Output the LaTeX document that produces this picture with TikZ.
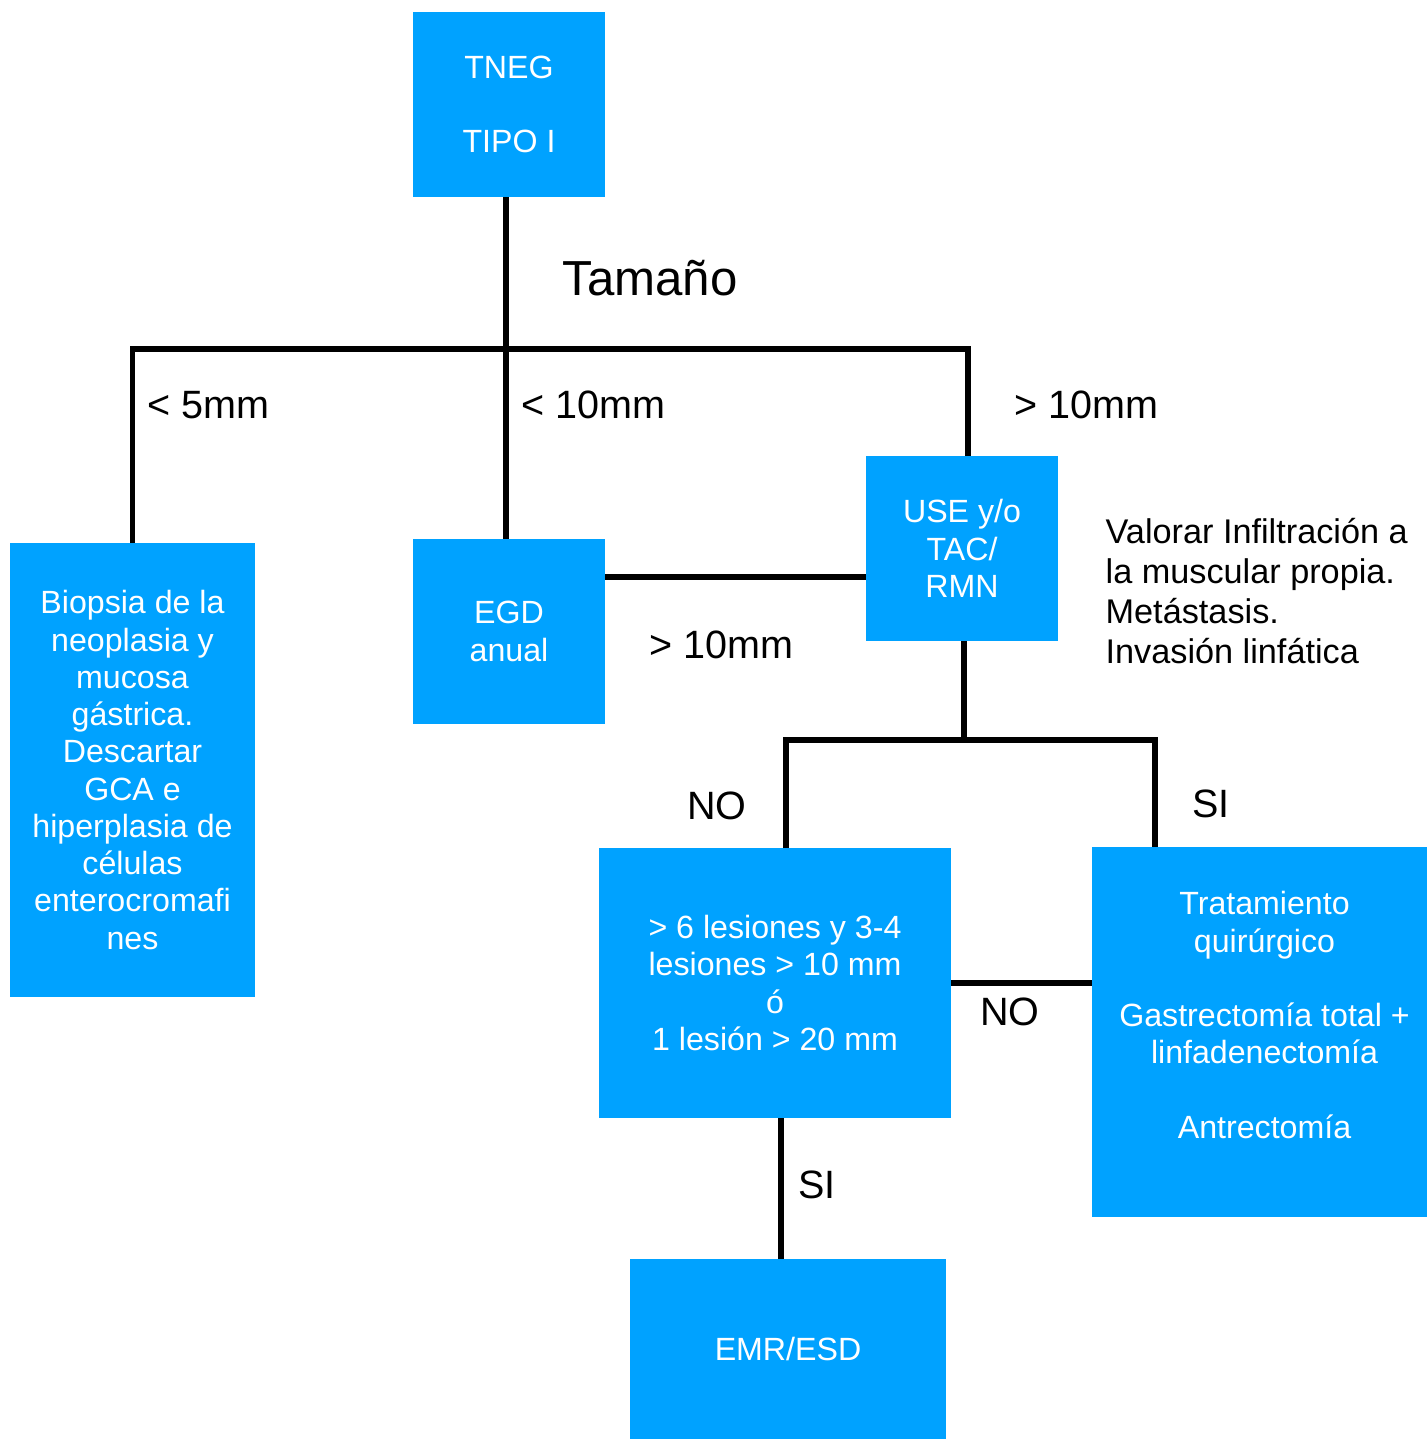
\documentclass[tikz,border=0pt]{standalone}
\usepackage{fontspec}
\setmainfont{Liberation Sans}
\definecolor{boxblue}{RGB}{0,162,255}

\begin{document}
\begin{tikzpicture}[x=0.02cm, y=-0.02cm,
    box/.style={fill=boxblue, text=white, align=center, inner sep=0pt, outer sep=0pt,
                font=\fontsize{18.3}{21.2}\selectfont},
    boxtext/.style={text=white, align=center, inner sep=0pt,
                font=\fontsize{18.3}{21.2}\selectfont},
    lbl/.style={inner sep=0pt, font=\fontsize{22.5}{26}\selectfont},
    line width=3pt]

    \useasboundingbox (0,0) rectangle (1427,1439);

    \node (tneg)  at ( 509, 104.5 ) [box, minimum width=192*0.02cm, minimum height=185*0.02cm] {TNEG\\[21.2pt]TIPO I};

    \node (biopsia)  at ( 132.5, 770 ) [box, minimum width=245*0.02cm, minimum height=454*0.02cm]
        {Biopsia de la\\neoplasia y\\mucosa\\gástrica.\\Descartar\\GCA e\\hiperplasia de\\células\\enterocromafi\\nes};

    \node (egd)  at ( 509, 631.5 ) [box, minimum width=192*0.02cm, minimum height=185*0.02cm] {EGD\\anual};

    \node (use)  at ( 962, 548.5 ) [box, minimum width=192*0.02cm, minimum height=185*0.02cm] {USE y/o\\TAC/\\RMN};

    \node (lesiones)  at ( 775, 983 ) [box, minimum width=352*0.02cm, minimum height=270*0.02cm]
        {> 6 lesiones y 3-4\\lesiones > 10 mm\\ó\\1 lesión > 20 mm};

    % text sits a little above the middle of this box
    \node (trat)  at ( 1259.5, 1032 ) [box, minimum width=335*0.02cm, minimum height=370*0.02cm,
        label={[boxtext, xshift=0.1cm, yshift=0.34cm]center:{Tratamiento\\quirúrgico\\[21.2pt]Gastrectomía total +\\linfadenectomía\\[21.2pt]Antrectomía}}] {};

    \node (emr)  at ( 788, 1349 ) [box, minimum width=316*0.02cm, minimum height=180*0.02cm] {EMR/ESD};

    % junctions
    \coordinate (size)  at ( 506, 349 );
    \coordinate (big)  at ( 968, 349 );
    \coordinate (mid)  at ( 735, 577 );
    \coordinate (split)  at ( 964, 740 );
    \coordinate (noL)  at ( 786, 740 );
    \coordinate (siR)  at ( 1155, 740 );
    \coordinate (down)  at ( 781, 1188 );

    \draw[-] (size |- tneg.south) -- (size |- egd.north);
    \draw[-] (biopsia.north) |- (big) -- (big |- use.north);
    \draw[-] (egd.east |- mid) -- (use.west |- mid);
    \draw[-] (split |- use.south) -- (split);
    \draw[-] (noL |- lesiones.north) -- (noL) -- (siR) -- (siR |- trat.north);
    \draw[-] (lesiones.east) -- (lesiones.east -| trat.west);
    \draw[-] (down |- lesiones.south) -- (down |- emr.north);

    \node (tam)  at ( 650, 278 ) [inner sep=0pt, font=\fontsize{28}{32}\selectfont] {Tamaño};
    \node (lt5)  at ( 145, 405 ) [lbl, anchor=west] {< 5mm};
    \node (lt10)  at ( 519, 405 ) [lbl, anchor=west] {< 10mm};
    \node (gt10a)  at ( 1012, 405 ) [lbl, anchor=west] {> 10mm};
    \node (gt10b)  at ( 647, 645 ) [lbl, anchor=west] {> 10mm};

    \node (valorar)  at ( 1103, 591 ) [anchor=west, align=left, inner sep=0pt, font=\fontsize{19.5}{22.7}\selectfont]
        {Valorar Infiltración a\\la muscular propia.\\Metástasis.\\Invasión linfática};

    \node (no1)  at ( 717, 806 ) [lbl] {NO};
    \node (si1)  at ( 1211, 804 ) [lbl] {SI};
    \node (no2)  at ( 1010, 1012 ) [lbl] {NO};
    \node (si2)  at ( 817, 1185 ) [lbl] {SI};

\end{tikzpicture}
\end{document}
